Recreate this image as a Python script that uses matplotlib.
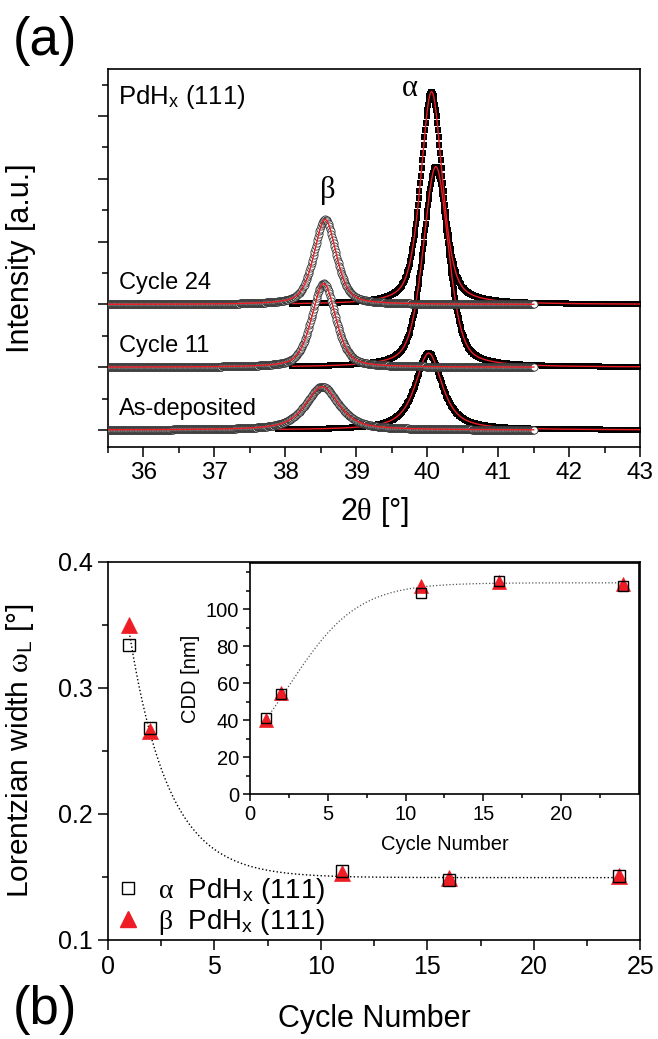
import numpy as np
import matplotlib.pyplot as plt
from matplotlib.ticker import MultipleLocator, FixedLocator, NullFormatter
from matplotlib.lines import Line2D

plt.rcParams['font.family'] = ['Liberation Sans', 'DejaVu Sans']
plt.rcParams['mathtext.fontset'] = 'custom'
plt.rcParams['mathtext.rm'] = 'Liberation Sans'
plt.rcParams['mathtext.it'] = 'Liberation Serif'
plt.rcParams['axes.linewidth'] = 1.2

RED = '#ee1c24'

# --- (b) Lorentzian width and CDD vs cycle ---
cycles = [1, 2, 11, 16, 24]
wl_alpha = [0.334, 0.268, 0.155, 0.148, 0.151]
wl_beta = [0.350, 0.266, 0.153, 0.149, 0.151]
cdd_alpha = [41.2, 54.0, 109.0, 115.5, 112.4]
cdd_beta = [40.0, 54.5, 112.5, 115.0, 113.5]

# exponential decay fit of the Lorentzian width
wl_fit = dict(y0=0.1495, a=0.195, x0=1.0, t=1.85)
# Boltzmann fit of the crystallite size
cdd_fit = dict(a1=2.8, a2=114.3, x0=2.5, dx=2.2)

# --- (a) PdHx(111) peak fits ---
scan_labels = ['As-deposited', 'Cycle 11', 'Cycle 24']
scan_cycle = [1, 11, 24]
scan_offset = [0, 2, 4]
alpha_pos = [40.02, 40.12, 40.06]
alpha_height = [2.45, 6.39, 6.78]
alpha_fwhm = [0.45, 0.42, 0.36]
alpha_start = [37.9, 38.1, 38.1]
beta_pos = [38.52, 38.54, 38.56]
beta_height = [1.38, 2.67, 2.71]
beta_fwhm = [0.56, 0.40, 0.37]


def pseudo_voigt(x, x0, h, f, fl):
    r = fl / f
    eta = 1.36603 * r - 0.47719 * r ** 2 + 0.11116 * r ** 3
    u = ((x - x0) / f) ** 2
    return h * (eta / (1 + 4 * u) + (1 - eta) * np.exp(-4 * np.log(2) * u))


fig = plt.figure(figsize=(6.58, 10.39), dpi=100)
ax1 = fig.add_axes([0.164, 0.5698, 0.809, 0.3638])
ax2 = fig.add_axes([0.164, 0.0953, 0.809, 0.3638])
ax3 = fig.add_axes([0.380, 0.2358, 0.591, 0.2223])

for i, lab in enumerate(scan_labels):
    k = cycles.index(scan_cycle[i])
    off = scan_offset[i]
    xa = np.arange(alpha_start[i], 43.0001, 0.01)
    ya = off + pseudo_voigt(xa, alpha_pos[i], alpha_height[i], alpha_fwhm[i], wl_alpha[k])
    xb = np.arange(35.5, 41.5001, 0.01)
    yb = off + pseudo_voigt(xb, beta_pos[i], beta_height[i], beta_fwhm[i], wl_beta[k])
    ax1.plot(xa, ya, 's', ms=4.6, mfc='black', mec='black', mew=0, zorder=2)
    ax1.plot(xa, ya, '-', color=RED, lw=1.0, zorder=3)
    ax1.plot(xb, yb, 'o', ms=5.2, mfc='white', mec='#333333', mew=0.6, zorder=4)
    ax1.plot(xb, yb, '-', color=RED, lw=1.0, zorder=5)
    ax1.text(35.66, off + 0.48, lab, fontsize=17, ha='left', va='baseline')

ax1.text(35.64, 10.4, r'PdH$_{\mathrm{x}}$ (111)', fontsize=18.5, ha='left', va='baseline')
ax1.text(39.76, 10.88, 'α', fontsize=22, family='Liberation Serif', ha='center', va='center')
ax1.text(38.60, 7.64, 'β', fontsize=22, family='Liberation Serif', ha='center', va='center')

ax1.set_xlim(35.5, 43)
ax1.set_ylim(-0.54, 11.5)
ax1.xaxis.set_major_locator(MultipleLocator(1))
ax1.xaxis.set_minor_locator(MultipleLocator(0.5))
ax1.yaxis.set_major_locator(MultipleLocator(2))
ax1.yaxis.set_minor_locator(MultipleLocator(1))
ax1.yaxis.set_major_formatter(NullFormatter())
ax1.set_xlabel(r'2$\theta$ [°]', fontsize=22, labelpad=8)
ax1.set_ylabel('Intensity [a.u.]', fontsize=22)
ax1.yaxis.set_label_coords(-0.135, 0.5)

# main panel (b)
xf = np.linspace(1, 24, 300)
ax2.plot(xf, wl_fit['y0'] + wl_fit['a'] * np.exp(-(xf - wl_fit['x0']) / wl_fit['t']),
         ':', color='black', lw=1.0, zorder=1)
ax2.plot(cycles, wl_beta, '^', ms=11, mfc=RED, mec=RED, mew=0.5, zorder=2)
ax2.plot(cycles, wl_alpha, 's', ms=8, mfc='none', mec='black', mew=1.0, zorder=3)
ax2.set_xlim(0, 25)
ax2.set_ylim(0.1, 0.4)
ax2.xaxis.set_major_locator(MultipleLocator(5))
ax2.xaxis.set_minor_locator(MultipleLocator(2.5))
ax2.yaxis.set_major_locator(MultipleLocator(0.1))
ax2.yaxis.set_minor_locator(MultipleLocator(0.05))
ax2.set_xlabel('Cycle Number', fontsize=22, labelpad=18)
ax2.set_ylabel(r'Lorentzian width $\omega_{\mathrm{L}}$ [°]', fontsize=21.5)
ax2.yaxis.set_label_coords(-0.135, 0.5)

handles = [Line2D([], [], ls='none', marker='s', ms=8, mfc='none', mec='black', mew=1.0),
           Line2D([], [], ls='none', marker='^', ms=11, mfc=RED, mec=RED)]
ax2.legend(handles, [r'$\alpha$  PdH$_{\mathrm{x}}$ (111)', r'$\beta$  PdH$_{\mathrm{x}}$ (111)'],
           loc='lower left', bbox_to_anchor=(-0.02, -0.035), frameon=False, fontsize=20,
           handletextpad=0.6, labelspacing=0.02, handlelength=1.0, borderaxespad=0.2)

# inset: coherent diffraction domain size
ax3.plot(xf, cdd_fit['a2'] + (cdd_fit['a1'] - cdd_fit['a2']) /
         (1 + np.exp((xf - cdd_fit['x0']) / cdd_fit['dx'])),
         ':', color='#555555', lw=0.9, zorder=1)
ax3.plot(cycles, cdd_beta, '^', ms=9.5, mfc=RED, mec=RED, mew=0.5, zorder=2)
ax3.plot(cycles, cdd_alpha, 's', ms=7, mfc='none', mec='black', mew=1.0, zorder=3)
ax3.set_xlim(0, 25)
ax3.set_ylim(0, 125)
ax3.xaxis.set_major_locator(FixedLocator([0, 5, 10, 15, 20]))
ax3.xaxis.set_minor_locator(FixedLocator([2.5, 7.5, 12.5, 17.5, 22.5]))
ax3.yaxis.set_major_locator(FixedLocator([0, 20, 40, 60, 80, 100]))
ax3.yaxis.set_minor_locator(FixedLocator([10, 30, 50, 70, 90, 110, 120]))
ax3.set_xlabel('Cycle Number', fontsize=14.5, labelpad=8)
ax3.set_ylabel('CDD [nm]', fontsize=14.5, labelpad=4)

for ax, fs in ((ax1, 17.5), (ax2, 18), (ax3, 14.5)):
    ax.tick_params(which='major', direction='out', length=7, width=1.1,
                   labelsize=fs, pad=4, top=False, right=False)
    ax.tick_params(which='minor', direction='out', length=4, width=1.1,
                   top=False, right=False)
ax3.tick_params(which='major', length=5, pad=3)
ax3.tick_params(which='minor', length=3)

fig.text(0.02, 0.9605, '(a)', fontsize=38, ha='left', va='center')
fig.text(0.02, 0.028, '(b)', fontsize=38, ha='left', va='center')

plt.savefig('out.png', dpi=100)
plt.close()
